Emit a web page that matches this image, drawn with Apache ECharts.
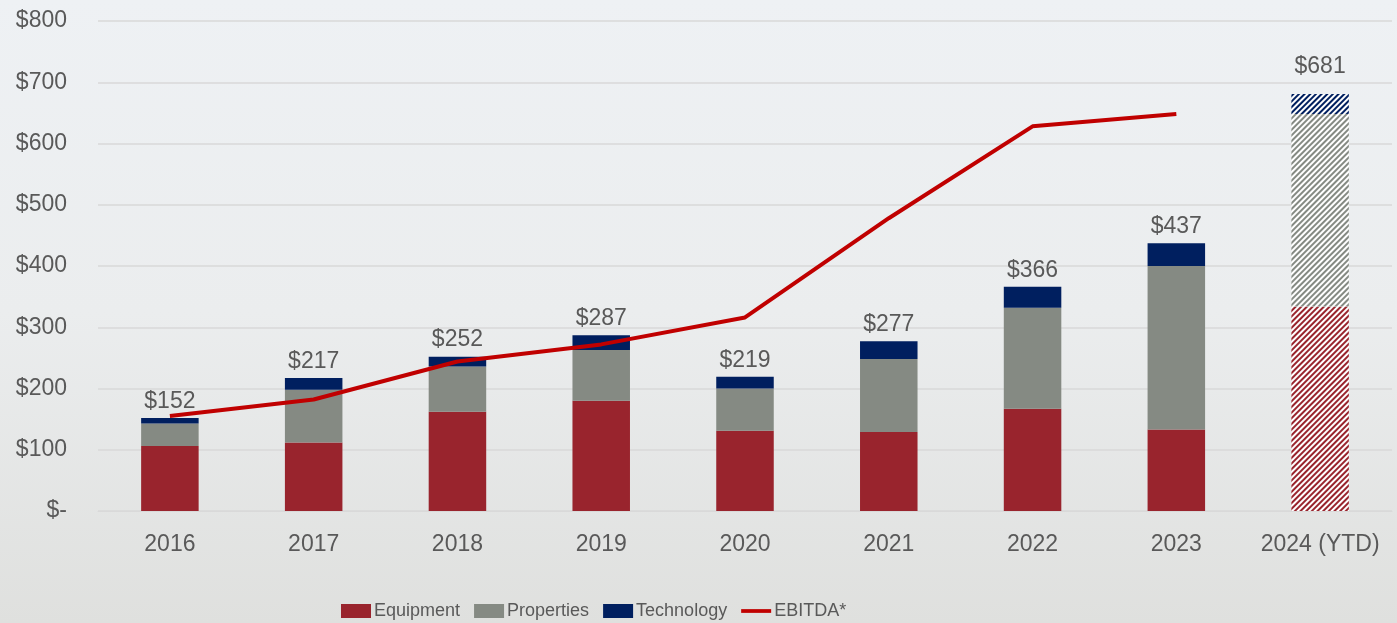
<!DOCTYPE html>
<html>
<head>
<meta charset="utf-8">
<script src="https://cdn.jsdelivr.net/npm/echarts@6/dist/echarts.min.js"></script>
<style>
  html, body { margin: 0; padding: 0; }
  #chart { width: 1397px; height: 623px; }
</style>
</head>
<body>
<div id="chart"></div>
<script>
// Capital spend by category ($ millions) with EBITDA overlay
const years = ['2016', '2017', '2018', '2019', '2020', '2021', '2022', '2023', '2024 (YTD)'];
const equipment  = [106, 112, 162, 180, 131, 129, 167, 133, 334];
const properties = [37, 86, 74, 83, 69, 119, 165, 267, 314];
const technology = [9, 19, 16, 24, 19, 29, 34, 37, 33];
const ebitda     = [155, 182, 244, 272, 316, 478, 628, 648, null];
const yTicks = [0, 100, 200, 300, 400, 500, 600, 700, 800];

const totals = years.map((_, i) => equipment[i] + properties[i] + technology[i]);
const ytdIndex = years.length - 1;

const colors = { equipment: '#99242d', properties: '#858a83', technology: '#001f5f', ebitda: '#c00000' };
const textColor = '#595959';
const baseFont = "'Liberation Sans', Arial, sans-serif";

// Year-to-date bar is drawn hatched: white base with diagonal coloured stripes
function hatched(color) {
  return {
    color: '#ffffff',
    decal: {
      symbol: 'rect',
      color: color,
      dashArrayX: [1, 0],
      dashArrayY: [1.5, 1.5],
      rotation: -Math.PI / 4
    }
  };
}

function barData(values, color) {
  return values.map((v, i) => i === ytdIndex ? { value: v, itemStyle: hatched(color) } : v);
}

const chart = echarts.init(document.getElementById('chart'));
chart.setOption({
  animation: false,
  backgroundColor: {
    type: 'linear', x: 0, y: 0, x2: 0, y2: 1,
    colorStops: [
      { offset: 0, color: '#eef1f4' },
      { offset: 0.5, color: '#ebedee' },
      { offset: 1, color: '#dfe0de' }
    ]
  },
  grid: { left: 98, right: 5, top: 21, bottom: 112 },
  legend: {
    left: 336, top: 597,
    itemWidth: 30, itemHeight: 14, itemGap: 14,
    textStyle: { color: textColor, fontSize: 18, fontFamily: baseFont, padding: [0, 0, 0, -2] },
    data: [
      { name: 'Equipment', icon: 'rect' },
      { name: 'Properties', icon: 'rect' },
      { name: 'Technology', icon: 'rect' },
      { name: 'EBITDA*', icon: 'path://M0,0 H32 V4 H0 Z' }
    ]
  },
  xAxis: {
    type: 'category',
    data: years,
    axisLine: { show: true, lineStyle: { color: '#d9d9d9', width: 1 } },
    axisTick: { show: false },
    axisLabel: { color: textColor, fontSize: 23, fontFamily: baseFont, margin: 22, interval: 0 }
  },
  yAxis: {
    type: 'value',
    min: yTicks[0], max: yTicks[yTicks.length - 1], interval: 100,
    axisLine: { show: false },
    axisTick: { show: false },
    splitLine: { lineStyle: { color: '#d9d9d9', width: 1.5 } },
    axisLabel: {
      color: textColor, fontSize: 23, fontFamily: baseFont, margin: 31,
      formatter: v => v === 0 ? '$-' : '$' + v
    }
  },
  series: [
    {
      name: 'Equipment', type: 'bar', stack: 'capex', barWidth: '40%',
      itemStyle: { color: colors.equipment },
      data: barData(equipment, colors.equipment)
    },
    {
      name: 'Properties', type: 'bar', stack: 'capex',
      itemStyle: { color: colors.properties },
      data: barData(properties, colors.properties)
    },
    {
      name: 'Technology', type: 'bar', stack: 'capex',
      itemStyle: { color: colors.technology },
      data: technology.map((v, i) => {
        const item = i === ytdIndex ? { value: v, itemStyle: hatched(colors.technology) } : { value: v };
        item.label = { distance: i === ytdIndex ? 16 : 5 };
        return item;
      }),
      label: {
        show: true, position: 'top', distance: 5,
        color: textColor, fontSize: 23, fontFamily: baseFont,
        formatter: p => '$' + totals[p.dataIndex]
      }
    },
    {
      name: 'EBITDA*', type: 'line',
      symbol: 'none',
      lineStyle: { color: colors.ebitda, width: 4 },
      itemStyle: { color: colors.ebitda },
      data: ebitda,
      z: 5
    }
  ]
});
</script>
</body>
</html>
